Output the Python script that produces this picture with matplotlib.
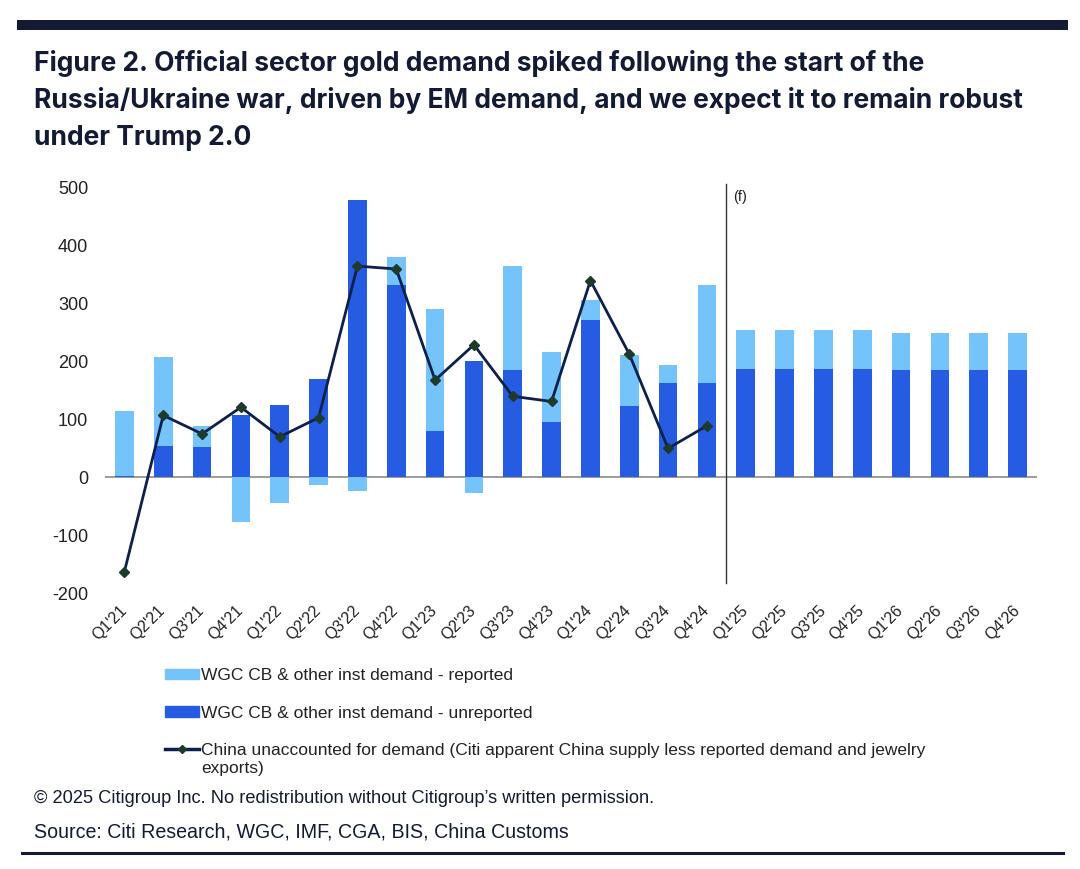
import numpy as np
import matplotlib
matplotlib.use("Agg")
import matplotlib.pyplot as plt
from matplotlib.lines import Line2D
from matplotlib.transforms import ScaledTranslation

plt.rcParams['font.family'] = ['Liberation Sans', 'DejaVu Sans']
plt.rcParams['axes.unicode_minus'] = False

# quarters (actuals through Q4'24, forecast after)
quarters = ["Q1'21", "Q2'21", "Q3'21", "Q4'21", "Q1'22", "Q2'22", "Q3'22", "Q4'22",
            "Q1'23", "Q2'23", "Q3'23", "Q4'23", "Q1'24", "Q2'24", "Q3'24", "Q4'24",
            "Q1'25", "Q2'25", "Q3'25", "Q4'25", "Q1'26", "Q2'26", "Q3'26", "Q4'26"]

# WGC CB & other inst demand - unreported (tonnes)
unreported = [3, 54, 52, 108, 125, 170, 479, 333, 80, 201, 185, 96,
              271, 123, 163, 163, 187, 187, 187, 187, 185, 185, 185, 185]
# WGC CB & other inst demand - reported (tonnes)
reported = [111, 154, 36, -78, -45, -14, -24, 48, 211, -27, 181, 120,
            36, 88, 31, 169, 68, 68, 68, 68, 64, 64, 64, 64]
# China unaccounted for demand (actuals only)
china = [-163, 107, 75, 121, 70, 103, 365, 360, 168, 229, 140, 131,
         340, 213, 50, 89]

NAVY = '#131a33'
LIGHT = '#74c3fb'
DARK = '#265ce2'
TXT = '#222222'

fig = plt.figure(figsize=(10.8, 8.69), dpi=100)
W, H = 1080, 869

ax = fig.add_axes([105 / W, 1 - 593 / H, 932 / W, 405 / H])

x = np.arange(len(quarters))
unrep = np.array(unreported)
rep = np.array(reported)
bottom = np.where(rep >= 0, unrep, 0)

ax.bar(x, unrep, width=0.48, color=DARK, zorder=2)
ax.bar(x, rep, bottom=bottom, width=0.48, color=LIGHT, zorder=2)
ax.plot(x[:len(china)], china, color='#0d1f4d', lw=2.0, zorder=3,
        marker='D', markersize=5, markerfacecolor='#1e3a2c', markeredgecolor='#1e3a2c')

ax.axhline(0, color='#8a8a8a', lw=1.2, zorder=1)
# forecast divider
ax.axvline(15.5, ymin=0.024, ymax=1.01, color='#333333', lw=1.0, clip_on=False)
ax.text(15.68, 484, '(f)', fontsize=10.5, color=TXT, va='center', ha='left')

ax.set_xlim(-0.5, len(quarters) - 0.5)
ax.set_ylim(-200, 500)
ax.set_yticks(np.arange(-200, 501, 100))
ax.tick_params(axis='y', length=0, pad=12, labelsize=13, labelcolor=TXT)
ax.tick_params(axis='x', length=0, pad=7, labelsize=11.5, labelcolor=TXT)
ax.set_xticks(x)
ax.set_xticklabels(quarters, rotation=45, ha='right')
shift = ScaledTranslation(5 / 100, 0, fig.dpi_scale_trans)
for lbl in ax.get_xticklabels():
    lbl.set_transform(lbl.get_transform() + shift)
for s in ax.spines.values():
    s.set_visible(False)

# legend
handles = [plt.Rectangle((0, 0), 1, 1, color=LIGHT),
           plt.Rectangle((0, 0), 1, 1, color=DARK),
           Line2D([], [], color='#0d1f4d', lw=2.5, marker='D', markersize=4,
                  markerfacecolor='#1e3a2c', markeredgecolor='#1e3a2c')]
labels = ['WGC CB & other inst demand - reported',
          'WGC CB & other inst demand - unreported',
          'China unaccounted for demand (Citi apparent China supply less reported demand and jewelry']
fig.legend(handles, labels, loc='upper left', bbox_to_anchor=(165 / W, 1 - 668 / H),
           frameon=False, fontsize=12.5, handlelength=1.95, handleheight=0.57,
           handletextpad=0.12, labelspacing=1.3, labelcolor=TXT,
           borderpad=0, borderaxespad=0)
fig.text(201 / W, 1 - 769 / H, 'exports)', fontsize=12.5, color=TXT, va='center')

# title
title_lines = ['Figure 2. Official sector gold demand spiked following the start of the',
               'Russia/Ukraine war, driven by EM demand, and we expect it to remain robust',
               'under Trump 2.0']
for i, line in enumerate(title_lines):
    fig.text(34 / W, 1 - (71 + 37 * i) / H, line, fontsize=19, fontweight='bold',
             color=NAVY, va='baseline', family=['Inter', 'DejaVu Sans'])

# footer
fig.text(34 / W, 1 - 803 / H, '\u00a9 2025 Citigroup Inc. No redistribution without Citigroup\u2019s written permission.',
         fontsize=13.15, color=NAVY, va='baseline')
fig.text(34 / W, 1 - 838 / H, 'Source: Citi Research, WGC, IMF, CGA, BIS, China Customs',
         fontsize=14.1, color=NAVY, va='baseline')

# rules
fig.add_artist(Line2D([22 / W, 1063 / W], [1 - 25 / H, 1 - 25 / H], color=NAVY, lw=7.2))
fig.add_artist(Line2D([22 / W, 1063 / W], [1 - 852.5 / H, 1 - 852.5 / H], color=NAVY, lw=2.2))

fig.savefig('out.png', dpi=100)
